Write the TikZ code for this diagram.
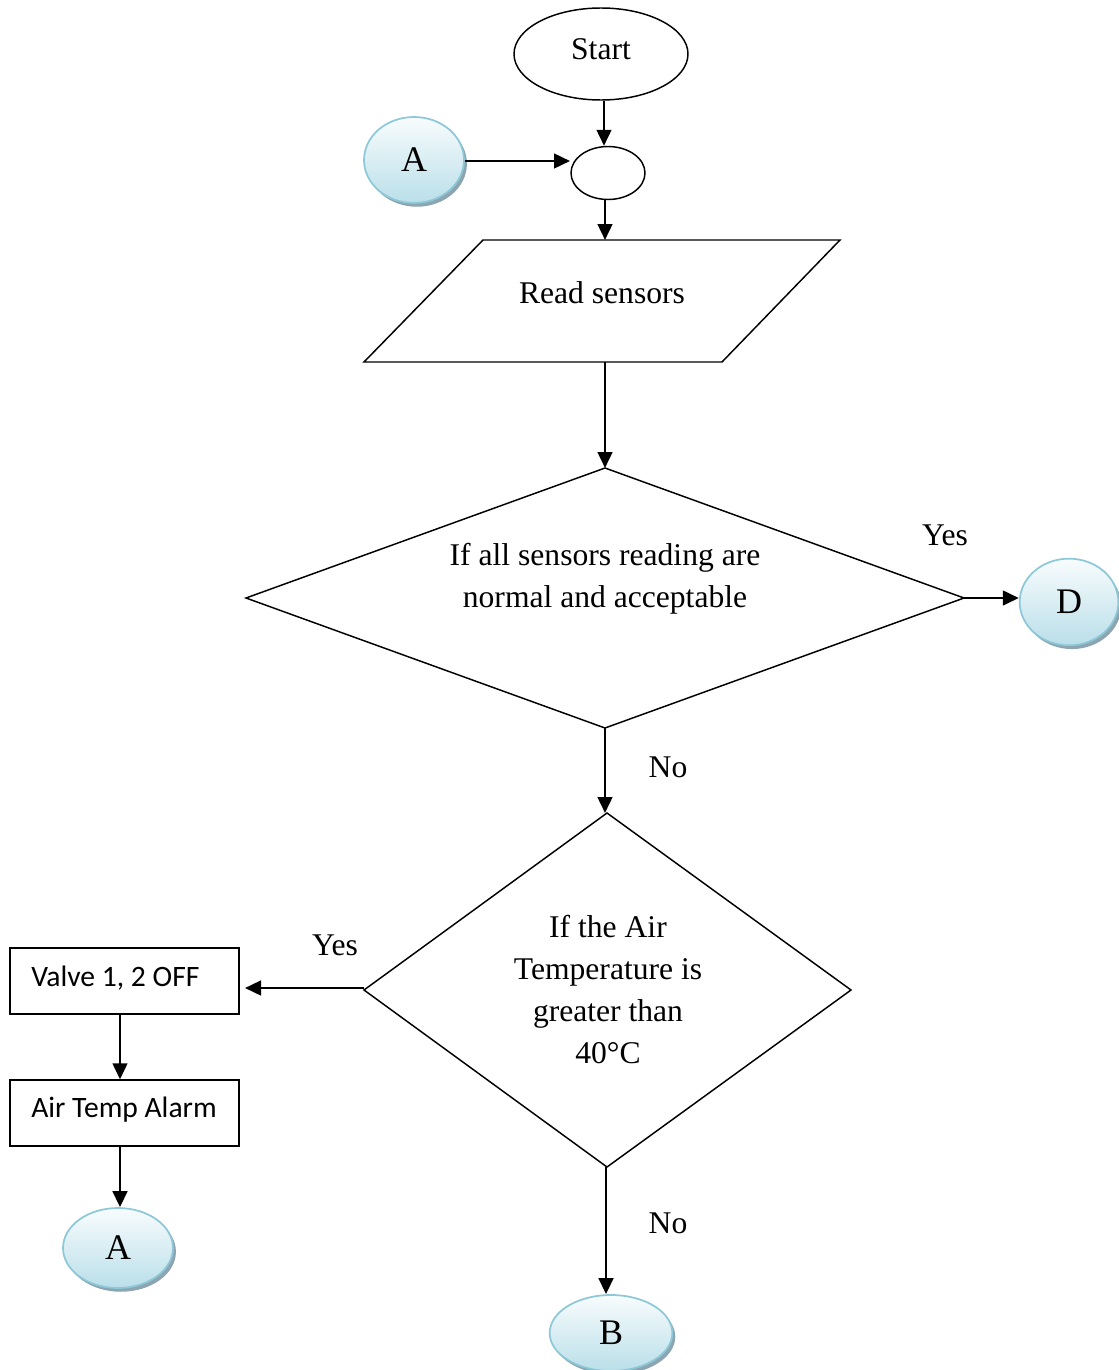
\documentclass[tikz,border=0pt]{standalone}
\usepackage{fontspec}
\setmainfont{Liberation Serif}
\newfontfamily\boxfont{Carlito}
\usetikzlibrary{arrows.meta,shapes.geometric,shadows}
\definecolor{connedge}{RGB}{141,200,216}
\definecolor{conntop}{RGB}{248,252,253}
\definecolor{connbot}{RGB}{186,223,233}
\definecolor{connshadow}{RGB}{140,165,176}
\tikzset{
  flow/.style={line width=1.9pt,-{Triangle[length=12pt,width=11pt]}},
  outline/.style={draw,line width=1.1pt},
  term/.style={ellipse,outline,inner sep=0pt,font=\fontsize{23.7}{28}\selectfont},
  conn/.style={ellipse,draw=connedge,line width=1.3pt,inner sep=0pt,
    top color=conntop,bottom color=connbot,
    general shadow={fill=connshadow,shadow xshift=2.2pt,shadow yshift=-2.8pt},
    font=\fontsize{27}{30}\selectfont},
  procbox/.style={rectangle,outline,minimum width=171.75pt,minimum height=49.5pt},
  boxtxt/.style={inner sep=0pt,anchor=west,font=\boxfont\fontsize{22.2}{26}\selectfont},
  txt/.style={inner sep=0pt,align=center,font=\fontsize{23.7}{31.5}\selectfont},
  lbl/.style={inner sep=0pt,font=\fontsize{23.7}{28}\selectfont},
}
\begin{document}
\begin{tikzpicture}[x=0.75pt,y=-0.75pt]
\useasboundingbox (0,0) rectangle (1119,1370);

% terminals and junction
\node[term,minimum width=130.5pt,minimum height=69pt] (start) at (601,54) {};
\node[txt] at (601,49) {Start};
\node[ellipse,outline,minimum width=55.5pt,minimum height=39.75pt,inner sep=0pt] (join) at (608,173) {};

% off-page connectors
\node[conn,minimum width=75pt,minimum height=64.5pt] (atop) at (414,160) {A};
\node[conn,minimum width=74pt,minimum height=65pt] (d) at (1069,602) {D};
\node[conn,minimum width=82.5pt,minimum height=60pt] (abot) at (118,1248) {A};
\node[conn,minimum width=92pt,minimum height=57pt] (b) at (611,1333) {B};

% input: read sensors
\draw[outline] (483,240) -- (840,240) -- (722,362) -- (364,362) -- cycle;
\coordinate (ptop) at (605,240);
\coordinate (pbot) at (605,362);
\node[txt] (read) at (602,293) {Read sensors};

% decision 1
\draw[outline] (605,468) coordinate (d1t) -- (964,598) coordinate (d1r)
  -- (605,728) coordinate (d1b) -- (246,598) coordinate (d1l) -- cycle;
\node[txt] (q1) at (605,579) {If all sensors reading are\\normal and acceptable};

% decision 2
\draw[outline] (607,813) coordinate (d2t) -- (851,990) coordinate (d2r)
  -- (607,1167) coordinate (d2b) -- (364,990) coordinate (d2l) -- cycle;
\node[txt] (q2) at (608,990) {If the Air\\Temperature is\\greater than\\40°C};

% actions
\node[procbox] (valve) at (124.5,981) {};
\node[boxtxt] at (31,978) {Valve 1, 2 OFF};
\node[procbox] (alarm) at (124.5,1113) {};
\node[boxtxt] at (31,1110) {Air Temp Alarm};

% connectors
\draw[flow] (start.south -| 604,0) -- (join.north -| 604,0);
\coordinate (ajoin) at (570,161);
\draw[flow] (atop.east |- ajoin) -- (ajoin);
\draw[flow] (join.south -| 605,0) -- (ptop);
\draw[flow] (pbot) -- (d1t);
\draw[flow] (d1r) -- (d.west |- d1r);
\draw[flow] (d1b) -- (d2t -| d1b);
\coordinate (vin) at (245,988);
\draw[flow] (d2l |- vin) -- (vin);
\draw[flow] (valve.south -| 120,0) -- (alarm.north -| 120,0);
\draw[flow] (alarm.south -| 120,0) -- (abot.north -| 120,0);
\draw[flow] (d2b -| 606,0) -- (b.north -| 606,0);

% branch labels
\node[lbl] (y1) at (945,535) {Yes};
\node[lbl] (n1) at (668,767) {No};
\node[lbl] (y2) at (335,945) {Yes};
\node[lbl] (n2) at (668,1223) {No};
\end{tikzpicture}
\end{document}
